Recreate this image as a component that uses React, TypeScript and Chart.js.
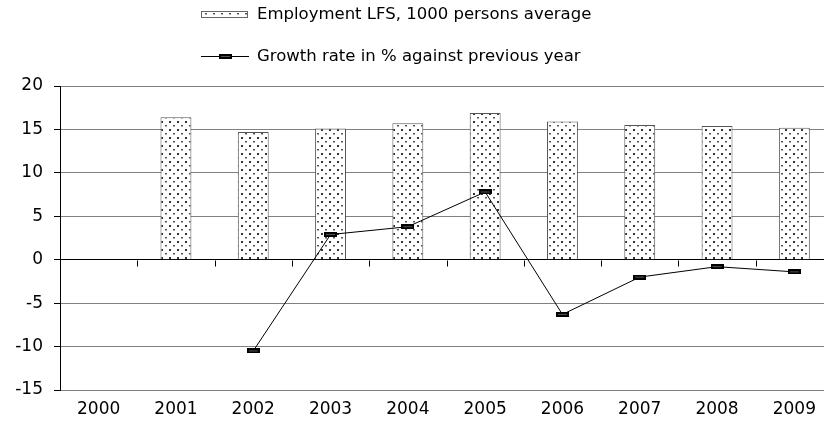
import React, { useEffect, useRef } from "react";
import { Chart, registerables } from "chart.js";

Chart.register(...registerables);

const years = ["2000", "2001", "2002", "2003", "2004", "2005", "2006", "2007", "2008", "2009"];
const employment = [null, 16.4, 14.7, 15.1, 15.7, 16.9, 15.9, 15.5, 15.4, 15.2];
const growth = [null, null, -10.5, 2.9, 3.8, 7.8, -6.3, -2.0, -0.8, -1.4];
const employmentLabel = "Employment LFS, 1000 persons average";
const growthLabel = "Growth rate in % against previous year";
const yMin = -15;
const yMax = 20;
const yStep = 5;

const FONT = "'DejaVu Sans', sans-serif";

function makePatternCanvas() {
  const c = document.createElement("canvas");
  c.width = 8;
  c.height = 8;
  const g = c.getContext("2d")!;
  g.fillStyle = "#ffffff";
  g.fillRect(0, 0, 8, 8);
  g.fillStyle = "#333333";
  g.fillRect(1, 1, 2, 2);
  g.fillStyle = "#555555";
  g.fillRect(5, 5, 2, 1);
  g.fillStyle = "#aaaaaa";
  g.fillRect(5, 6, 2, 1);
  return c;
}

function makeMarker() {
  const c = document.createElement("canvas");
  c.width = 13;
  c.height = 5;
  const g = c.getContext("2d")!;
  g.fillStyle = "#000000";
  g.fillRect(0, 0, 13, 5);
  g.fillStyle = "#555555";
  g.fillRect(2, 2, 9, 1);
  return c;
}

export default function App() {
  const ref = useRef<HTMLCanvasElement>(null);

  useEffect(() => {
    const canvas = ref.current!;
    const ctx = canvas.getContext("2d")!;
    const pattern = ctx.createPattern(makePatternCanvas(), "repeat")!;
    const marker = makeMarker();

    const legendPlugin = {
      id: "customLegend",
      afterDraw(chart: any) {
        const c = chart.ctx;
        c.save();
        c.fillStyle = pattern;
        c.fillRect(201, 11, 47, 6);
        c.strokeStyle = "#666";
        c.lineWidth = 1;
        c.strokeRect(201.5, 11.5, 46, 6);
        c.fillStyle = "#000";
        c.font = `16.5px ${FONT}`;
        c.textBaseline = "middle";
        c.textAlign = "left";
        c.fillText(employmentLabel, 257, 15);
        c.beginPath();
        c.strokeStyle = "#000";
        c.moveTo(201, 56.5);
        c.lineTo(249, 56.5);
        c.stroke();
        c.drawImage(marker, 219, 54);
        c.fillText(growthLabel, 257, 57);
        c.restore();
      },
    };

    const zeroTicksPlugin = {
      id: "zeroTicks",
      afterDatasetsDraw(chart: any) {
        const c = chart.ctx;
        const x = chart.scales.x;
        const y = chart.scales.y;
        const y0 = Math.round(y.getPixelForValue(0)) + 0.5;
        c.save();
        c.strokeStyle = "#000";
        c.lineWidth = 1;
        c.beginPath();
        for (let i = 1; i < years.length; i++) {
          const px = Math.round((x.getPixelForValue(i - 1) + x.getPixelForValue(i)) / 2) + 0.5;
          c.moveTo(px, y0);
          c.lineTo(px, y0 + 6);
        }
        c.stroke();
        c.restore();
      },
    };

    const chart = new Chart(canvas, {
      data: {
        labels: years,
        datasets: [
          {
            type: "line",
            label: growthLabel,
            data: growth,
            borderColor: "#000",
            borderWidth: 1,
            pointStyle: marker as any,
            pointRadius: 6,
            order: 0,
          },
          {
            type: "bar",
            label: employmentLabel,
            data: employment,
            backgroundColor: pattern as any,
            borderColor: "#555",
            borderWidth: 1,
            barPercentage: 0.4,
            categoryPercentage: 1,
            order: 1,
          },
        ],
      },
      options: {
        responsive: false,
        animation: false,
        devicePixelRatio: 1,
        layout: { padding: { top: 86, right: 6, left: 0, bottom: 0 } },
        plugins: {
          legend: { display: false },
          tooltip: { enabled: false },
        },
        scales: {
          x: {
            type: "category",
            offset: true,
            grid: { display: false },
            border: { display: false },
            ticks: { color: "#000", font: { family: FONT, size: 17 }, padding: 1, maxRotation: 0 },
            afterFit(scale: any) {
              scale.height = 37;
            },
          },
          y: {
            min: yMin,
            max: yMax,
            ticks: { stepSize: yStep, color: "#000", font: { family: FONT, size: 17 }, padding: 11 },
            grid: {
              color: (c: any) => (c.tick && c.tick.value === 0 ? "#000" : "#808080"),
              tickColor: "#000",
              tickLength: 6,
            },
            border: { display: true, color: "#000", width: 1 },
            afterFit(scale: any) {
              scale.width = 60;
            },
          },
        },
      },
      plugins: [legendPlugin, zeroTicksPlugin],
    } as any);

    return () => chart.destroy();
  }, []);

  return (
    <div style={{ position: "fixed", left: 0, top: 0, width: 824, height: 427, overflow: "hidden", background: "#fff" }}>
      <canvas ref={ref} width={840} height={427} style={{ width: 840, height: 427, display: "block" }} />
    </div>
  );
}
